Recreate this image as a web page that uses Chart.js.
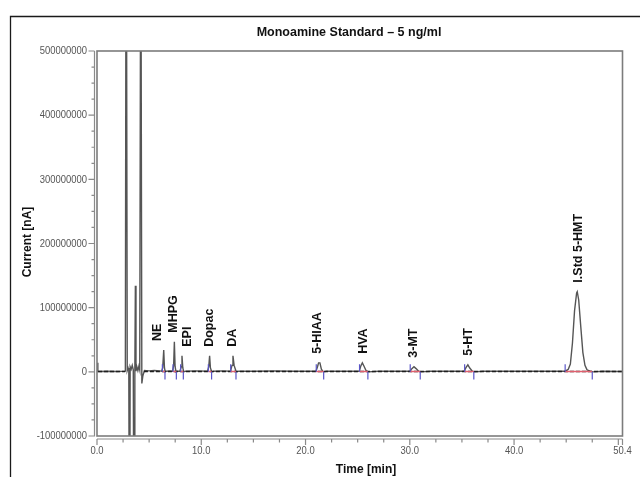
<!DOCTYPE html>
<html>
<head>
<meta charset="utf-8">
<script src="https://cdn.jsdelivr.net/npm/chart.js@4.4.1/dist/chart.umd.min.js"></script>
<style>
  html, body { margin: 0; padding: 0; background: #ffffff; }
  #wrap { width: 640px; height: 477px; }
</style>
</head>
<body>
<div id="wrap"><canvas id="c" width="640" height="477"></canvas></div>
<script>
// ---------- DATA ----------
const chartTitle = 'Monoamine Standard \u2013 5 ng/ml';
const xTitle = 'Time [min]';
const yTitle = 'Current [nA]';

// chromatogram trace: time [min] and current [nA]
const traceTimes = [
  0.00, 0.08, 1.0, 2.0, 2.72, 2.80, 2.90, 2.98, 3.05, 3.12, 3.18, 3.28, 3.38, 3.48, 3.56, 3.63, 3.68, 3.74,
  3.82, 3.92, 4.02, 4.10, 4.20, 4.30, 4.40, 4.55, 5.0, 5.5, 6.0, 6.2,
  6.30, 6.40, 6.47, 6.55, 6.65, 7.0, 7.25, 7.35, 7.42, 7.49, 7.58, 7.7,
  7.95, 8.08, 8.15, 8.23, 8.33, 8.5, 9.5, 10.6, 10.72, 10.80, 10.88, 11.0, 11.2,
  12.0, 12.8, 12.95, 13.04, 13.15, 13.35, 13.6, 15.0, 17.0, 19.0,
  21.0, 21.15, 21.25, 21.38, 21.52, 21.7, 22.0, 24.0,
  25.15, 25.3, 25.45, 25.6, 25.8, 26.0, 27.0, 29.0,
  30.0, 30.2, 30.4, 30.6, 30.85, 31.0, 32.0, 34.0,
  35.2, 35.4, 35.57, 35.75, 36.0, 36.2, 37.0, 40.0, 43.0,
  44.9, 45.2, 45.4, 45.6, 45.8, 46.0, 46.06, 46.2, 46.4, 46.6, 46.8, 47.0, 47.3, 47.6, 48.5, 50.4
];
const traceCurrents = [
  14e6, 0.5e6, 0.8e6, 0.5e6, 1e6, 900e6, 2e6, 6e6, 2e6, -400e6, 8e6, 4e6, 10e6, 3e6, -400e6, 2e6, 134e6, 1e6,
  8e6, 2e6, 9e6, 3e6, 800e6, -18e6, -6e6, 2e6, 1.5e6, 2e6, 1.5e6, 1e6,
  6e6, 34e6, 6e6, 0, 1e6, 1.5e6, 1e6, 10e6, 47e6, 8e6, 0, 1e6,
  1e6, 8e6, 25e6, 6e6, 0, 1e6, 1.5e6, 1e6, 8e6, 25e6, 6e6, 0, 1e6,
  1.5e6, 1e6, 10e6, 25e6, 10e6, 0, 1e6, 1e6, 1.2e6, 1e6,
  1e6, 8e6, 14e6, 14e6, 4e6, 0, 1e6, 1e6,
  1e6, 9e6, 14e6, 9e6, 2e6, 0, 1e6, 1e6,
  1e6, 5e6, 8e6, 5e6, 1e6, 0, 1e6, 1e6,
  1e6, 7e6, 11e6, 6e6, 1e6, 0, 1e6, 1e6, 1e6,
  1e6, 4e6, 12e6, 45e6, 95e6, 123e6, 125e6, 112e6, 70e6, 30e6, 10e6, 3e6, 1e6, 0, 1e6, 0.5e6
];

// dashed reference baseline (time ranges) and its level [nA]
const baselineRanges = [[0.1, 2.7], [4.5, 50.4]];
const baselineLevel = 0.5e6;

// named peaks
const peakNames  = ['NE', 'MHPG', 'EPI', 'Dopac', 'DA', '5-HIAA', 'HVA', '3-MT', '5-HT', 'I.Std 5-HMT'];
const peakApex   = [34e6, 47e6, 25e6, 25e6, 25e6, 14e6, 14e6, 8e6, 11e6, 125e6];
const labelTimes = [5.8, 7.3, 8.65, 10.75, 13.0, 21.2, 25.6, 30.36, 35.64, 46.2];
const peakStart  = [6.27, 7.29, 8.02, 10.68, 12.82, 21.03, 25.18, 30.04, 35.26, 44.9];
const peakEnd    = [6.52, 7.61, 8.28, 10.99, 13.33, 21.74, 25.98, 31.0, 36.14, 47.5];
const markerSize = 12e6;  // height of integration tick marks [nA]

// axes
const xMin = 0, xMax = 50.4;
const xTickValues = [0, 10, 20, 30, 40, 50.4];
const xMinorStep = 2.5;
const yMin = -100000000, yMax = 500000000;
const yStep = 100000000;
const yMinorStep = 25000000;

// ---------- build datasets ----------
const traceData = traceTimes.map((t, i) => ({ x: t, y: traceCurrents[i] }));
const baselineData = [];
baselineRanges.forEach((r, i) => {
  if (i > 0) baselineData.push({ x: r[0] - 0.01, y: null });
  baselineData.push({ x: r[0], y: baselineLevel }, { x: r[1], y: baselineLevel });
});
const redData = [];
const blueData = [];
peakStart.forEach((s, i) => {
  const e = peakEnd[i];
  redData.push({ x: s, y: baselineLevel }, { x: e, y: baselineLevel }, { x: e, y: null });
  blueData.push({ x: s, y: 0 }, { x: s, y: markerSize }, { x: s, y: null });
  blueData.push({ x: e, y: 0 }, { x: e, y: -markerSize }, { x: e, y: null });
});

const TICK_FONT = '11.5px "Liberation Sans", Arial, sans-serif';
const TICK_SQUEEZE = 0.82;

const decorPlugin = {
  id: 'decor',
  beforeDraw(chart) {
    const ctx = chart.ctx;
    ctx.save();
    ctx.fillStyle = '#ffffff';
    ctx.fillRect(0, 0, chart.width, chart.height);
    ctx.strokeStyle = '#1a1a1a';
    ctx.lineWidth = 1.3;
    ctx.beginPath();
    ctx.moveTo(10.5, chart.height);
    ctx.lineTo(10.5, 16.5);
    ctx.lineTo(chart.width, 16.5);
    ctx.stroke();
    ctx.restore();
  },
  afterDraw(chart) {
    const ctx = chart.ctx;
    const a = chart.chartArea;
    const xs = chart.scales.x, ys = chart.scales.y;
    ctx.save();
    // plot frame
    ctx.strokeStyle = '#7c7c7c';
    ctx.lineWidth = 1.6;
    ctx.strokeRect(a.left, a.top, a.right - a.left, a.bottom - a.top);
    // axis lines and tick marks
    ctx.strokeStyle = '#8a8a8a';
    ctx.lineWidth = 1.2;
    const yAxisX = a.left - 2.5;
    const xAxisY = a.bottom + 3;
    ctx.beginPath();
    ctx.moveTo(yAxisX, a.top); ctx.lineTo(yAxisX, a.bottom + 0.5);
    ctx.moveTo(a.left, xAxisY); ctx.lineTo(a.right, xAxisY);
    for (let v = yMin; v <= yMax + 1; v += yMinorStep) {
      const py = ys.getPixelForValue(v);
      const major = Math.abs(v % yStep) < 1;
      ctx.moveTo(yAxisX, py); ctx.lineTo(yAxisX - (major ? 6 : 3), py);
    }
    for (let v = xMin; v <= xMax + 1e-9; v += xMinorStep) {
      const px = xs.getPixelForValue(v);
      const major = Math.abs(v % 10) < 1e-9;
      ctx.moveTo(px, xAxisY); ctx.lineTo(px, xAxisY + (major ? 6 : 3.5));
    }
    const pxEnd = xs.getPixelForValue(xMax);
    ctx.moveTo(pxEnd, xAxisY); ctx.lineTo(pxEnd, xAxisY + 6);
    ctx.stroke();

    // tick labels (narrow)
    ctx.fillStyle = '#555555';
    ctx.font = TICK_FONT;
    ctx.textBaseline = 'middle';
    ys.ticks.forEach(t => {
      const py = ys.getPixelForValue(t.value);
      ctx.save();
      ctx.translate(a.left - 10, py);
      ctx.scale(TICK_SQUEEZE, 1);
      ctx.textAlign = 'right';
      ctx.fillText(String(t.value), 0, 0);
      ctx.restore();
    });
    xTickValues.forEach(v => {
      const px = xs.getPixelForValue(v);
      ctx.save();
      ctx.translate(px, a.bottom + 15);
      ctx.scale(TICK_SQUEEZE, 1);
      ctx.textAlign = 'center';
      ctx.fillText(v.toFixed(1), 0, 0);
      ctx.restore();
    });

    // peak labels
    ctx.fillStyle = '#111111';
    ctx.font = 'bold 12.5px "Liberation Sans", Arial, sans-serif';
    ctx.textAlign = 'left';
    ctx.textBaseline = 'middle';
    peakNames.forEach((name, i) => {
      const px = xs.getPixelForValue(labelTimes[i]);
      const py = ys.getPixelForValue(peakApex[i]) - 9;
      ctx.save();
      ctx.translate(px, py);
      ctx.rotate(-Math.PI / 2);
      ctx.fillText(name, 0, 0);
      ctx.restore();
    });

    // titles
    ctx.textAlign = 'center';
    ctx.textBaseline = 'middle';
    ctx.fillText(chartTitle, 349, 33);
    ctx.font = 'bold 12px "Liberation Sans", Arial, sans-serif';
    ctx.fillText(xTitle, 366, 470);
    ctx.save();
    ctx.translate(28, 242);
    ctx.rotate(-Math.PI / 2);
    ctx.fillText(yTitle, 0, 0);
    ctx.restore();
    ctx.restore();
  }
};

new Chart(document.getElementById('c'), {
  type: 'line',
  data: {
    datasets: [
      { label: 'marks', data: blueData, borderColor: '#5a56c8', borderWidth: 1.2, pointRadius: 0, spanGaps: false, order: 0 },
      { label: 'integration baseline', data: redData, borderColor: '#e0606e', borderWidth: 1.3, pointRadius: 0, spanGaps: false, order: 1 },
      { label: 'baseline', data: baselineData, borderColor: '#1e1e1e', borderWidth: 1.3, borderDash: [4, 2], pointRadius: 0, spanGaps: false, order: 2 },
      { label: 'trace', data: traceData, borderColor: '#555555', borderWidth: 1.4, pointRadius: 0, tension: 0, order: 3 }
    ]
  },
  options: {
    responsive: false,
    animation: false,
    devicePixelRatio: 1,
    events: [],
    layout: { padding: { top: 51, right: 17.5, left: 0, bottom: 0 } },
    plugins: { legend: { display: false }, tooltip: { enabled: false }, title: { display: false } },
    scales: {
      x: {
        type: 'linear', min: xMin, max: xMax,
        afterBuildTicks: s => { s.ticks = xTickValues.map(v => ({ value: v })); },
        afterFit: s => { s.height = 41; },
        ticks: { display: false },
        grid: { display: false, drawTicks: false },
        border: { display: false }
      },
      y: {
        type: 'linear', min: yMin, max: yMax,
        ticks: { stepSize: yStep, display: false },
        afterFit: s => { s.width = 97; },
        grid: { display: false, drawTicks: false },
        border: { display: false }
      }
    }
  },
  plugins: [decorPlugin]
});
</script>
</body>
</html>
